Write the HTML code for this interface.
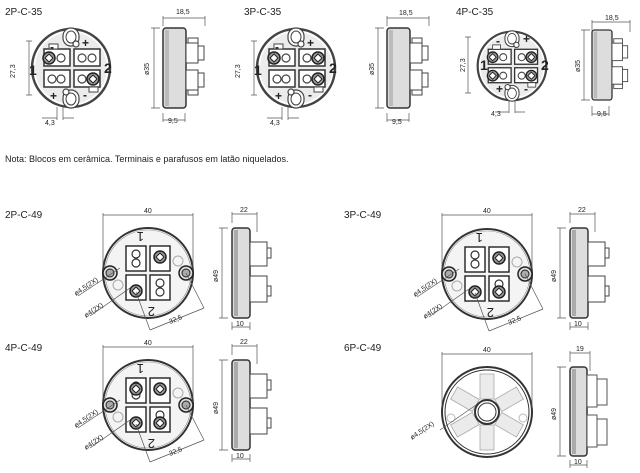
<!DOCTYPE html>
<html><head><meta charset="utf-8"><style>
html,body{margin:0;padding:0;background:#fff;width:640px;height:473px;overflow:hidden}
svg{display:block}
text{font-family:"Liberation Sans",sans-serif;fill:#222}
</style></head><body>
<svg width="640" height="473" viewBox="0 0 640 473" xmlns="http://www.w3.org/2000/svg">
<defs>
<g id="c35">
 <circle cx="0" cy="0" r="39" fill="#fff" stroke="#444" stroke-width="2.5"/>
 <circle cx="0" cy="0" r="36" fill="#ececec" stroke="none"/>
 <rect x="-8" y="-40" width="16" height="18" rx="8" fill="#fff" stroke="#444" stroke-width="1.2"/>
 <ellipse cx="0" cy="-31" rx="5" ry="6" fill="#fff" stroke="#444"/>
 <rect x="-8" y="22" width="16" height="18" rx="8" fill="#fff" stroke="#444" stroke-width="1.2"/>
 <ellipse cx="0" cy="31" rx="5" ry="6" fill="#fff" stroke="#444"/>
 <rect x="-27" y="-19" width="26" height="17" fill="#fff" stroke="#333" stroke-width="1.5"/>
 <rect x="3" y="-19" width="26" height="17" fill="#fff" stroke="#333" stroke-width="1.5"/>
 <rect x="-27" y="2" width="26" height="17" fill="#fff" stroke="#333" stroke-width="1.5"/>
 <rect x="3" y="2" width="26" height="17" fill="#fff" stroke="#333" stroke-width="1.5"/>
 <rect x="-22" y="-24" width="9" height="5" fill="#fff" stroke="#444"/>
 <rect x="18" y="19" width="9" height="5" fill="#fff" stroke="#444"/>
 <g fill="#fff" stroke="#444" stroke-width="1.2">
 <circle cx="-10" cy="-10" r="4"/><circle cx="11" cy="-10" r="4"/><circle cx="21" cy="-10" r="4"/>
 <circle cx="-19" cy="11" r="4"/><circle cx="-10" cy="11" r="4"/><circle cx="11" cy="11" r="4"/>
 <circle cx="5" cy="-24" r="3"/><circle cx="-5" cy="24" r="3"/>
 </g>
</g>
<g id="scr"><circle r="6" fill="#999" stroke="#222" stroke-width="1.5"/><path d="M-4,0L0,-4L4,0L0,4Z" fill="#fff" stroke="#222"/></g>
<g id="side35">
 <rect x="0" y="0" width="23" height="80" rx="3" fill="#ddd" stroke="#333" stroke-width="1.5"/>
 <rect x="2" y="2" width="4" height="76" fill="#bbb"/>
 <g fill="#fff" stroke="#444">
 <rect x="23" y="15" width="12" height="20"/><rect x="35" y="18" width="6" height="14"/>
 <rect x="23" y="42" width="12" height="20"/><rect x="35" y="45" width="6" height="14"/>
 <rect x="25" y="10" width="10" height="5"/><rect x="25" y="62" width="10" height="5"/>
 </g>
</g>
<g id="c49">
 <circle r="45" fill="#fff" stroke="#333" stroke-width="2"/>
 <circle r="43" fill="#f4f4f4" stroke="#888" stroke-width="0.6"/>
 <rect x="-22" y="-27" width="20" height="25" fill="#fff" stroke="#222" stroke-width="1.4"/>
 <rect x="2" y="-27" width="20" height="25" fill="#fff" stroke="#222" stroke-width="1.4"/>
 <rect x="-22" y="2" width="20" height="25" fill="#fff" stroke="#222" stroke-width="1.4"/>
 <rect x="2" y="2" width="20" height="25" fill="#fff" stroke="#222" stroke-width="1.4"/>
 <g fill="none" stroke="#333" stroke-width="1.2">
  <circle cx="-12" cy="-19" r="4"/><circle cx="-12" cy="-10" r="4"/>
  <circle cx="12" cy="10" r="4"/><circle cx="12" cy="19" r="4"/>
 </g>
 <circle cx="-38" cy="0" r="7" fill="#ddd" stroke="#222" stroke-width="1.5"/><circle cx="-38" cy="0" r="4" fill="#aaa" stroke="#222"/>
 <circle cx="38" cy="0" r="7" fill="#ddd" stroke="#222" stroke-width="1.5"/><circle cx="38" cy="0" r="4" fill="#aaa" stroke="#222"/>
 <circle cx="30" cy="-12" r="5" fill="none" stroke="#aaa"/><circle cx="-30" cy="12" r="5" fill="none" stroke="#aaa"/>
 <text x="-4" y="-33" font-size="13" fill="#bbb" transform="rotate(180 -4 -37)">1</text>
 <text x="-1" y="42" font-size="13" fill="#bbb" transform="rotate(180 3 38)">2</text>
</g>
<g id="side49">
 <rect x="0" y="0" width="18" height="90" rx="3" fill="#ddd" stroke="#333" stroke-width="1.5"/>
 <rect x="2" y="2" width="4" height="86" fill="#aaa"/>
 <g fill="#fff" stroke="#444">
 <rect x="18" y="14" width="17" height="24"/><rect x="35" y="20" width="4" height="10"/>
 <rect x="18" y="48" width="17" height="26"/><rect x="35" y="58" width="4" height="10"/>
 </g>
</g>
<g id="dim35">
 <path d="M-34,-27H-28M-34,27H-28M-31,-27V27" stroke="#555" stroke-width="0.7" fill="none"/>
 <path d="M-3,39V52M3,39V52M-18,50H-3M3,50H14" stroke="#555" stroke-width="0.7" fill="none"/>
</g>
</defs>

<text x="5" y="15" font-size="10">2P-C-35</text>
<text x="244" y="15" font-size="10">3P-C-35</text>
<text x="456" y="15" font-size="10">4P-C-35</text>

<g transform="translate(71,68)"><use href="#c35"/><use href="#dim35" transform="translate(-11,0)"/>
 <use href="#scr" x="-22" y="-10"/><use href="#scr" x="22" y="11"/></g>
<g transform="translate(296,68)"><use href="#c35"/><use href="#dim35" transform="translate(-11,0)"/>
 <use href="#scr" x="-22" y="-10"/><use href="#scr" x="22" y="-10"/><use href="#scr" x="22" y="11"/></g>
<g transform="translate(512,66) scale(0.88)"><use href="#c35"/>
 <use href="#scr" x="-22" y="-10"/><use href="#scr" x="22" y="-10"/><use href="#scr" x="22" y="11"/><use href="#scr" x="-22" y="11"/></g>
<path d="M465,37H471M465,93H471M468,37V93M509,100V113M515,100V113M495,112H509M515,112H525" stroke="#555" stroke-width="0.7"/>

<g font-weight="bold" font-size="14">
<text x="29" y="75">1</text><text x="104" y="73">2</text>
<text x="254" y="75">1</text><text x="329" y="73">2</text>
<text x="480" y="70">1</text><text x="541" y="70">2</text>
</g>
<g font-weight="bold" font-size="12">
<text x="50" y="51">-</text><text x="82" y="47">+</text><text x="50" y="100">+</text><text x="83" y="99">-</text>
<text x="275" y="51">-</text><text x="307" y="47">+</text><text x="275" y="100">+</text><text x="308" y="99">-</text>
<text x="496" y="45">-</text><text x="523" y="43">+</text><text x="496" y="93">+</text><text x="524" y="93">-</text>
</g>
<g font-size="7" fill="#444">
<text x="45" y="125">4,3</text><text x="270" y="125">4,3</text><text x="491" y="116">4,3</text>
<text transform="translate(15,78) rotate(-90)">27,3</text>
<text transform="translate(240,78) rotate(-90)">27,3</text>
<text transform="translate(465,72) rotate(-90)">27,3</text>
<text transform="translate(149,75) rotate(-90)">ø35</text>
<text transform="translate(374,75) rotate(-90)">ø35</text>
<text transform="translate(580,72) rotate(-90)">ø35</text>
<text x="176" y="14">18,5</text><text x="399" y="15">18,5</text><text x="605" y="20">18,5</text>
<text x="168" y="123">9,5</text><text x="392" y="124">9,5</text><text x="597" y="116">9,5</text>
</g>

<use href="#side35" x="163" y="28"/>
<use href="#side35" x="387" y="28"/>
<use href="#side35" transform="translate(592,30) scale(0.87,0.875)"/>
<g stroke="#555" stroke-width="0.7" fill="none">
<path d="M163,16V26M205,16V26M163,18H205M151,28H160M151,108H160M154,28V108M163,113V122M185,113V122M163,120H185"/>
<path d="M387,16V26M429,16V26M387,18H429M375,28H384M375,108H384M378,28V108M387,113V122M409,113V122M387,120H409"/>
<path d="M592,20V32M630,20V32M592,22H630M581,30H590M581,100H590M584,30V100M592,106V116M609,106V116M592,114H609"/>
</g>

<text x="5" y="162" font-size="9">Nota: Blocos em cerâmica. Terminais e parafusos em latão niquelados.</text>

<text x="5" y="218" font-size="10">2P-C-49</text>
<text x="344" y="218" font-size="10">3P-C-49</text>
<text x="5" y="351" font-size="10">4P-C-49</text>
<text x="344" y="351" font-size="10">6P-C-49</text>

<g transform="translate(148,273)"><use href="#c49"/><use href="#scr" x="12" y="-16"/><use href="#scr" x="-12" y="18"/></g>
<g transform="translate(487,274)"><use href="#c49"/><use href="#scr" x="12" y="-16"/><use href="#scr" x="-12" y="18"/><use href="#scr" x="12" y="18"/></g>
<g transform="translate(148,405)"><use href="#c49"/><use href="#scr" x="12" y="-16"/><use href="#scr" x="-12" y="-16"/><use href="#scr" x="-12" y="18"/><use href="#scr" x="12" y="18"/></g>

<g transform="translate(487,412)">
 <circle r="45" fill="#fff" stroke="#333" stroke-width="2"/>
 <circle r="42" fill="#fff" stroke="#333" stroke-width="1"/>
 <g fill="#ebebeb" stroke="#aaa" stroke-width="0.8">
  <rect x="-7" y="-38" width="14" height="25"/>
  <rect x="-7" y="-38" width="14" height="25" transform="rotate(60)"/>
  <rect x="-7" y="-38" width="14" height="25" transform="rotate(120)"/>
  <rect x="-7" y="-38" width="14" height="25" transform="rotate(180)"/>
  <rect x="-7" y="-38" width="14" height="25" transform="rotate(240)"/>
  <rect x="-7" y="-38" width="14" height="25" transform="rotate(300)"/>
 </g>
 <circle r="12" fill="#fff" stroke="#333" stroke-width="2"/>
 <circle r="9" fill="#fff" stroke="#333"/>
 <circle cx="-36" cy="6" r="4" fill="none" stroke="#bbb"/><circle cx="36" cy="6" r="4" fill="none" stroke="#bbb"/>
</g>

<use href="#side49" x="232" y="228"/>
<use href="#side49" x="570" y="228"/>
<use href="#side49" x="232" y="360"/>
<g transform="translate(570,367)">
 <rect x="0" y="0" width="17" height="89" rx="3" fill="#ddd" stroke="#333" stroke-width="1.5"/>
 <rect x="2" y="2" width="4" height="85" fill="#aaa"/>
 <g fill="#fff" stroke="#555"><rect x="17" y="8" width="10" height="32"/><rect x="27" y="12" width="10" height="26"/>
 <rect x="17" y="48" width="10" height="32"/><rect x="27" y="52" width="10" height="26"/></g>
</g>

<g stroke="#555" stroke-width="0.7" fill="none">
<path d="M103,213V270M193,213V270M103,215H193M232,212V223M257,212V232M232,214H257M219,228H228M219,318H228M222,228V318M232,322V330M250,322V330M232,327H250"/>
<path d="M442,213V270M532,213V270M442,215H532M570,212V223M595,212V232M570,214H595M557,228H566M557,318H566M560,228V318M570,322V330M588,322V330M570,327H588"/>
<path d="M103,345V402M193,345V402M103,347H193M232,344V355M257,344V364M232,346H257M219,360H228M219,450H228M222,360V450M232,454V462M250,454V462M232,459H250"/>
<path d="M442,352V408M532,352V408M442,354H532M570,351V362M590,351V371M570,353H590M557,367H566M557,456H566M560,367V456M570,460V468M587,460V468M570,465H587"/>
<path d="M186,273L204,308M136,292L150,330M150,330L204,308M120,268L78,296M130,288L90,316"/>
<path d="M525,274L543,309M475,293L489,331M489,331L543,309M459,269L417,297M469,289L429,317"/>
<path d="M186,405L204,440M136,424L150,462M150,462L204,440M120,400L78,428M130,420L90,448"/>
<path d="M476,405L440,430"/>
</g>

<g font-size="7" fill="#444">
<text x="144" y="213">40</text><text x="483" y="213">40</text><text x="144" y="345">40</text><text x="483" y="352">40</text>
<text x="240" y="212">22</text><text x="578" y="212">22</text><text x="240" y="344">22</text><text x="576" y="351">19</text>
<text x="236" y="326">10</text><text x="574" y="326">10</text><text x="236" y="458">10</text><text x="574" y="464">10</text>
<text transform="translate(218,282) rotate(-90)">ø49</text>
<text transform="translate(556,282) rotate(-90)">ø49</text>
<text transform="translate(218,414) rotate(-90)">ø49</text>
<text transform="translate(556,420) rotate(-90)">ø49</text>
<text transform="translate(170,324) rotate(-22)">32,5</text>
<text transform="translate(509,325) rotate(-22)">32,5</text>
<text transform="translate(170,456) rotate(-22)">32,5</text>
<text transform="translate(76,296) rotate(-34)">ø4,5(2X)</text>
<text transform="translate(86,318) rotate(-34)">ø4(2X)</text>
<text transform="translate(415,297) rotate(-34)">ø4,5(2X)</text>
<text transform="translate(425,319) rotate(-34)">ø4(2X)</text>
<text transform="translate(76,428) rotate(-34)">ø4,5(2X)</text>
<text transform="translate(86,450) rotate(-34)">ø4(2X)</text>
<text transform="translate(412,440) rotate(-34)">ø4,5(2X)</text>
</g>
</svg>
</body></html>
